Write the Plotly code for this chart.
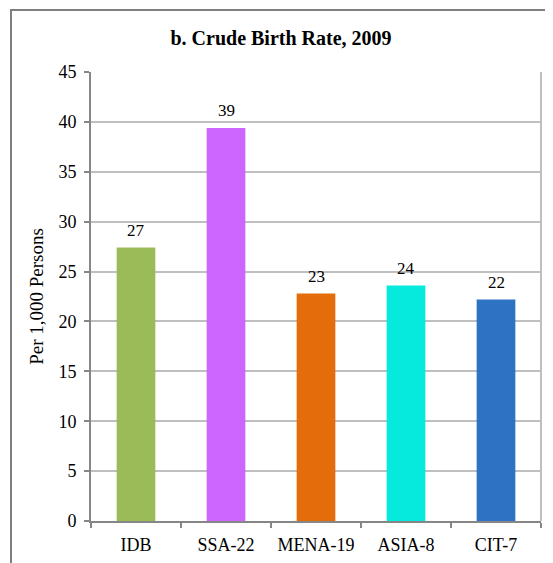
import plotly.graph_objects as go

categories = ["IDB", "SSA-22", "MENA-19", "ASIA-8", "CIT-7"]
values = [27.4, 39.4, 22.8, 23.6, 22.2]
labels = ["27", "39", "23", "24", "22"]
colors = ["#9BBB59", "#CC66FF", "#E46C0A", "#06EADE", "#2E72C3"]
y_ticks = [0, 5, 10, 15, 20, 25, 30, 35, 40, 45]

OFF = 8  # page body margin offset
W, H = 553 - OFF, 563 - OFF
# target pixel positions on the page
PL, PR, PT, PB = 91, 541, 72, 521.5
L = PL - OFF
T = PT - OFF
R = W - (PR - OFF)
B = H - (PB - OFF)
pw = W - L - R
ph = H - T - B

def px2x(p):
    return (p - OFF - L) / pw

def px2y(p):
    return (H - B - (p - OFF)) / ph

fig = go.Figure()
fig.add_trace(go.Bar(
    x=categories, y=values,
    marker=dict(color=colors, line=dict(width=0)),
    width=0.43,
))

annotations = [
    dict(x=c, y=v, text=t, xref="x", yref="y", showarrow=False,
         yanchor="middle", yshift=17,
         font=dict(family="Liberation Serif", size=17, color="black"))
    for c, v, t in zip(categories, values, labels)
]

fig.update_layout(
    width=W, height=H,
    margin=dict(l=L, r=R, t=T, b=B, autoexpand=False),
    paper_bgcolor="white", plot_bgcolor="white",
    showlegend=False,
    title=dict(text="<b>b. Crude Birth Rate, 2009</b>", x=(281 - OFF) / W,
               xanchor="center", y=1 - (38 - OFF) / H, yanchor="middle",
               font=dict(family="Liberation Serif", size=20, color="black")),
    font=dict(family="Liberation Serif", size=17, color="black"),
    xaxis=dict(
        showline=True, linecolor="#868686", linewidth=2,
        ticks="outside", tickson="boundaries", ticklen=5, tickcolor="#868686", tickwidth=2,
        tickfont=dict(family="Liberation Serif", size=18, color="black"),
        ticklabelstandoff=6,
        showgrid=False,
    ),
    yaxis=dict(
        range=[0, 45], tickvals=y_ticks,
        showline=True, linecolor="#868686", linewidth=2,
        ticks="outside", ticklen=5, tickcolor="#868686", tickwidth=2,
        showgrid=True, gridcolor="#BFBFBF", gridwidth=2,
        zeroline=False,
        tickfont=dict(family="Liberation Serif", size=18, color="black"),
        ticklabelstandoff=4,
        title=dict(text="Per 1,000 Persons", standoff=10,
                   font=dict(family="Liberation Serif", size=19, color="black")),
    ),
    annotations=annotations,
    shapes=[
        dict(type="line", xref="paper", yref="paper", x0=1, x1=1, y0=0, y1=1,
             line=dict(color="#BFBFBF", width=2)),
        dict(type="rect", xref="paper", yref="paper",
             x0=px2x(11), x1=px2x(620), y0=px2y(10), y1=px2y(640),
             line=dict(color="#7F7F7F", width=2), fillcolor="rgba(0,0,0,0)", layer="below"),
    ],
)

fig.write_html("out.html")
